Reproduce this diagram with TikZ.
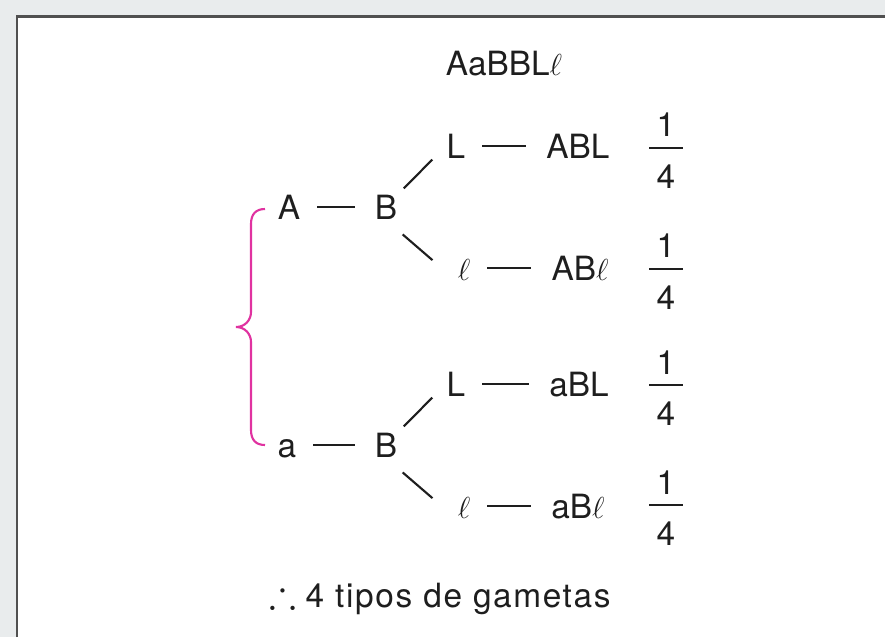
\documentclass[tikz,border=0pt]{standalone}
\usepackage{amssymb}
\usepackage{fontspec}
\setmainfont{TeX Gyre Heros}
\definecolor{pagebg}{RGB}{233,236,237}
\definecolor{frame}{RGB}{80,80,80}
\definecolor{ink}{RGB}{30,30,30}
\definecolor{brace}{RGB}{224,50,160}

\begin{document}
\begin{tikzpicture}[x=0.02cm, y=-0.02cm, line width=1.2pt,
    every node/.style={font=\fontsize{19}{23}\selectfont, text=ink, inner sep=0pt},
    lbl/.style={anchor=base, text height=13.6pt, text depth=0pt},
    digit/.style={text height=13.6pt, text depth=0pt},
    bar/.style={fill=ink, minimum width=0.68cm, minimum height=1.6pt},
    link/.style={draw=ink, shorten <=0.32cm, shorten >=0.38cm},
    upfork/.style={draw=ink, shorten <=0.16cm, shorten >=0.38cm},
    downfork/.style={draw=ink, shorten <=0.44cm, shorten >=0.64cm}]
	\useasboundingbox (0,0) rectangle (885,637);
	\fill [pagebg] (0,0) rectangle (885,637);
	\fill [white] (17,16) rectangle (885,637);
	\draw [frame,line width=1.7pt] (17,637) |- (885,16);

	\node [lbl] (geno) at (504,75) {AaBBL$\ell$};

	% A branch
	\node [lbl] (A) at (289,219) {A};
	\node [lbl] (B1) at (386,219) {B};
	\node [lbl] (L1) at (456,158) {L};
	\node [lbl] (g1) at (578,158) {ABL};
	\node [lbl] (l1) at (464,280) {$\ell$};
	\node [lbl] (g2) at (580,280) {AB$\ell$};
	\node [bar,label={[digit,label distance=0.15cm]above:1},label={[digit,label distance=0.27cm]below:4}] (f1) at (666,148) {};
	\node [bar,label={[digit,label distance=0.15cm]above:1},label={[digit,label distance=0.27cm]below:4}] (f2) at (666,269) {};

	% a branch
	\node [lbl] (a) at (287,457) {a};
	\node [lbl] (B2) at (386,457) {B};
	\node [lbl] (L2) at (456,396) {L};
	\node [lbl] (g3) at (579,396) {aBL};
	\node [lbl] (l2) at (464,518) {$\ell$};
	\node [lbl] (g4) at (578,518) {aB$\ell$};
	\node [bar,label={[digit,label distance=0.15cm]above:1},label={[digit,label distance=0.27cm]below:4}] (f3) at (666,385) {};
	\node [bar,label={[digit,label distance=0.15cm]above:1},label={[digit,label distance=0.27cm]below:4}] (f4) at (666,505) {};

	\node [lbl] (sum) at (440,607) {{\fontsize{23}{23}\selectfont$\therefore$} \addfontfeature{LetterSpace=5}4 tipos de gametas};

	\draw [link] (A) -- (B1);
	\draw [upfork] (B1.north east) -- (L1.west);
	\draw [downfork] (B1.south) -- (l1.south west);
	\draw [link] (L1) -- (g1);
	\draw [link] (l1) -- (g2);
	\draw [link] (a) -- (B2);
	\draw [upfork] (B2.north east) -- (L2.west);
	\draw [downfork] (B2.south) -- (l2.south west);
	\draw [link] (L2) -- (g3);
	\draw [link] (l2) -- (g4);

	\draw [brace] (265,209) .. controls (256,209) and (251,214) .. (251,224) -- (251,312)
		.. controls (251,320) and (245,327) .. (236,327) .. controls (245,327) and (251,334) .. (251,342)
		-- (251,430) .. controls (251,440) and (256,445) .. (265,445);
\end{tikzpicture}
\end{document}
